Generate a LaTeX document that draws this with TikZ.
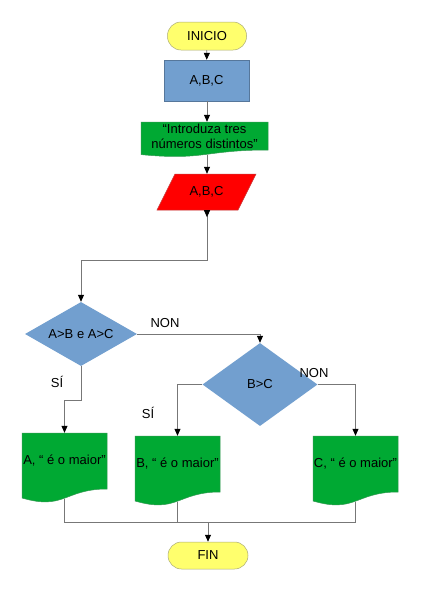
\documentclass[tikz,border=0pt]{standalone}
\usepackage{fontspec}
\setmainfont{Liberation Sans}
\usetikzlibrary{shapes.geometric,arrows.meta}
\definecolor{yel}{HTML}{FFFF6D}
\definecolor{yelb}{HTML}{AAAA78}
\definecolor{blu}{HTML}{729FCF}
\definecolor{grn}{HTML}{00A933}
\definecolor{lnc}{HTML}{777777}
\begin{document}
\begin{tikzpicture}[x=1pt,y=-1pt,
  every node/.style={font=\fontsize{13}{15}\selectfont, inner sep=0},
  term/.style={draw=yelb, line width=0.5, fill=yel, rounded corners=13.5, minimum width=79, minimum height=28},
  proc/.style={draw=blu!75!black, line width=0.4, fill=blu, minimum width=85, minimum height=41},
  dec/.style={diamond, fill=blu},
  docsh/.style={fill=grn, draw=grn!60!gray, line width=0.5},
  parash/.style={fill=red, draw=red!55!gray, line width=0.5},
  txt/.style={minimum height=0, align=center},
  ln/.style={draw=lnc, line width=0.8},
  arr/.style={ln, -{Triangle[length=7pt,width=6pt,color=black]}},
  arrb/.style={ln, {Triangle[length=7pt,width=6pt,color=black,reversed]}-{Triangle[length=7pt,width=6pt,color=black]}},
  lbl/.style={font=\fontsize{13}{15}\selectfont}
]
\fill[white] (0,0) rectangle (424,600);
\useasboundingbox (0,0) rectangle (424,600);

% start
\node[term] (ini) at (207,36) {INICIO};
\node[proc] (abc) at (206.5,80.5) {A,B,C};

% message document
\path[docsh] (141,122) -- (268,122) -- (268,150) .. controls (204.5,150) and (204.5,160.7) .. (141,154.6) -- cycle;
\node[txt, minimum width=127, minimum height=28] (msg) at (204.5,136) {“Introduza tres\\números distintos”};
\coordinate (msgB) at (207,154.8);

% input parallelogram
\path[parash] (175,174) -- (256,174) -- (238,210) -- (157,210) -- cycle;
\node[minimum width=81, minimum height=36] (para) at (206.5,192) {A,B,C};

% decisions
\node[dec, aspect=1.75, minimum width=112, minimum height=64] (d1) at (81,334) {A>B e A>C};
\node[dec, aspect=1.39, minimum width=115, minimum height=83] (d2) at (260,384.5) {B>C};

% output documents
\path[docsh] (22,433) -- (107,433) -- (107,489) .. controls (64.5,489) and (64.5,510.5) .. (22,498) -- cycle;
\node[minimum width=85, minimum height=56] (docA) at (64.5,461) {A, “ é o maior”};
\coordinate (aB) at (64.5,498.5);

\path[docsh] (135,436) -- (220,436) -- (220,492) .. controls (177.5,492) and (177.5,513.5) .. (135,501) -- cycle;
\node[minimum width=85, minimum height=56] (docB) at (177.5,464) {B, “ é o maior”};
\coordinate (bB) at (177.5,501.5);

\path[docsh] (313,436) -- (398,436) -- (398,492) .. controls (355.5,492) and (355.5,513.5) .. (313,501) -- cycle;
\node[minimum width=85, minimum height=56] (docC) at (355.5,464) {C, “ é o maior”};
\coordinate (cB) at (355.5,501.5);

% end
\node[term, minimum width=80, minimum height=27] (fin) at (208,555.5) {FIN};

% connectors
\draw[arr] (ini) -- (abc);
\draw[arr] (abc.south -| msgB) -- (msg.north -| msgB);
\draw[arr] (msgB) -- (msgB |- para.north);
\coordinate (j1) at (207,260);
\draw[arrb] (para.south -| msgB) -- (j1) -| (d1.north);
\draw[arr] (d1.east) -| (d2.north);
\coordinate (j2) at (81,400);
\draw[arr] (d1.south) -- (j2) -| (docA.north);
\draw[arr] (d2.west) -| (docB.north);
\draw[arr] (d2.east) -| (docC.north);
\coordinate (mrg) at (208,522);
\draw[ln] (aB) |- (mrg);
\draw[ln] (bB) |- (mrg);
\draw[ln] (cB) |- (mrg);
\draw[arr] (mrg) -- (fin.north);

% labels
\node[lbl] (non1) at (165,323) {NON};
\node[lbl] (si1) at (57,382) {SÍ};
\node[lbl] (si2) at (148,413) {SÍ};
\node[lbl] (non2) at (314,373) {NON};
\end{tikzpicture}
\end{document}
